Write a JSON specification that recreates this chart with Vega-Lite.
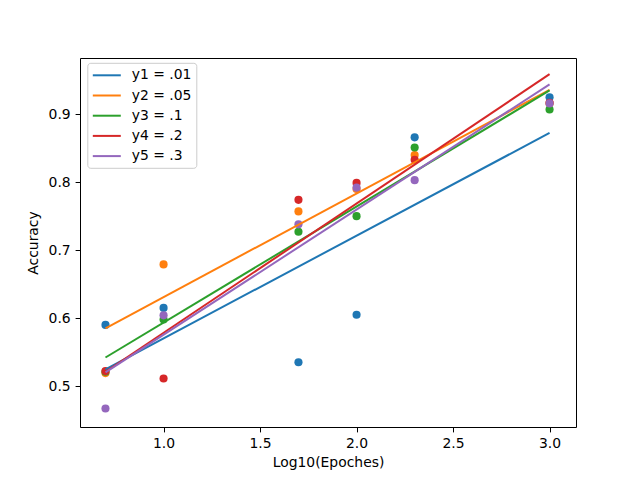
{
  "$schema": "https://vega.github.io/schema/vega-lite/v6.json",
  "width": 496,
  "height": 369,
  "autosize": "none",
  "padding": {"left": 80, "top": 58, "right": 64, "bottom": 53},
  "background": "white",
  "datasets": {
    "points": [
      {"epochs": 0.699, "accuracy": 0.590, "series": "y1 = .01"},
      {"epochs": 1.0, "accuracy": 0.615, "series": "y1 = .01"},
      {"epochs": 1.699, "accuracy": 0.535, "series": "y1 = .01"},
      {"epochs": 2.0, "accuracy": 0.605, "series": "y1 = .01"},
      {"epochs": 2.301, "accuracy": 0.866, "series": "y1 = .01"},
      {"epochs": 3.0, "accuracy": 0.925, "series": "y1 = .01"},
      {"epochs": 0.699, "accuracy": 0.519, "series": "y2 = .05"},
      {"epochs": 1.0, "accuracy": 0.679, "series": "y2 = .05"},
      {"epochs": 1.699, "accuracy": 0.757, "series": "y2 = .05"},
      {"epochs": 2.0, "accuracy": 0.790, "series": "y2 = .05"},
      {"epochs": 2.301, "accuracy": 0.840, "series": "y2 = .05"},
      {"epochs": 3.0, "accuracy": 0.916, "series": "y2 = .05"},
      {"epochs": 0.699, "accuracy": 0.521, "series": "y3 = .1"},
      {"epochs": 1.0, "accuracy": 0.598, "series": "y3 = .1"},
      {"epochs": 1.699, "accuracy": 0.727, "series": "y3 = .1"},
      {"epochs": 2.0, "accuracy": 0.750, "series": "y3 = .1"},
      {"epochs": 2.301, "accuracy": 0.851, "series": "y3 = .1"},
      {"epochs": 3.0, "accuracy": 0.907, "series": "y3 = .1"},
      {"epochs": 0.699, "accuracy": 0.522, "series": "y4 = .2"},
      {"epochs": 1.0, "accuracy": 0.511, "series": "y4 = .2"},
      {"epochs": 1.699, "accuracy": 0.774, "series": "y4 = .2"},
      {"epochs": 2.0, "accuracy": 0.799, "series": "y4 = .2"},
      {"epochs": 2.301, "accuracy": 0.833, "series": "y4 = .2"},
      {"epochs": 3.0, "accuracy": 0.917, "series": "y4 = .2"},
      {"epochs": 0.699, "accuracy": 0.467, "series": "y5 = .3"},
      {"epochs": 1.0, "accuracy": 0.604, "series": "y5 = .3"},
      {"epochs": 1.699, "accuracy": 0.738, "series": "y5 = .3"},
      {"epochs": 2.0, "accuracy": 0.792, "series": "y5 = .3"},
      {"epochs": 2.301, "accuracy": 0.803, "series": "y5 = .3"},
      {"epochs": 3.0, "accuracy": 0.916, "series": "y5 = .3"}
    ],
    "fits": [
      {"epochs": 0.699, "accuracy": 0.5245, "series": "y1 = .01"},
      {"epochs": 3.0, "accuracy": 0.8725, "series": "y1 = .01"},
      {"epochs": 0.699, "accuracy": 0.585, "series": "y2 = .05"},
      {"epochs": 3.0, "accuracy": 0.936, "series": "y2 = .05"},
      {"epochs": 0.699, "accuracy": 0.542, "series": "y3 = .1"},
      {"epochs": 3.0, "accuracy": 0.935, "series": "y3 = .1"},
      {"epochs": 0.699, "accuracy": 0.521, "series": "y4 = .2"},
      {"epochs": 3.0, "accuracy": 0.959, "series": "y4 = .2"},
      {"epochs": 0.699, "accuracy": 0.520, "series": "y5 = .3"},
      {"epochs": 3.0, "accuracy": 0.944, "series": "y5 = .3"}
    ]
  },
  "encoding": {
    "x": {
      "field": "epochs", "type": "quantitative",
      "scale": {"domain": [0.567, 3.137], "nice": false, "zero": false},
      "axis": {"values": [1.0, 1.5, 2.0, 2.5, 3.0], "format": ".1f", "title": "Log10(Epoches)", "titlePadding": 5}
    },
    "y": {
      "field": "accuracy", "type": "quantitative",
      "scale": {"domain": [0.4397, 0.9828], "nice": false, "zero": false},
      "axis": {"values": [0.5, 0.6, 0.7, 0.8, 0.9], "format": ".1f", "title": "Accuracy", "titlePadding": 8}
    },
    "color": {
      "field": "series", "type": "nominal",
      "scale": {
        "domain": ["y1 = .01", "y2 = .05", "y3 = .1", "y4 = .2", "y5 = .3"],
        "range": ["#1f77b4", "#ff7f0e", "#2ca02c", "#d62728", "#9467bd"]
      },
      "legend": {
        "title": null, "orient": "none", "legendX": 7.3, "legendY": 4.8,
        "symbolType": "M-1,0H3",
        "symbolSize": 196, "symbolStrokeWidth": 2, "rowPadding": 5.2,
        "strokeColor": "#cccccc", "fillColor": "white", "cornerRadius": 3,
        "padding": 4.5, "labelFontSize": 13.9, "labelFont": "DejaVu Sans", "labelColor": "black",
        "labelOffset": 24
      }
    }
  },
  "layer": [
    {
      "data": {"name": "points"},
      "mark": {"type": "circle", "size": 66, "opacity": 1}
    },
    {
      "data": {"name": "fits"},
      "mark": {"type": "line", "strokeWidth": 2},
      "encoding": {"detail": {"field": "series"}}
    }
  ],
  "config": {
    "view": {"stroke": "black", "strokeWidth": 1},
    "axis": {
      "grid": false, "domain": false, "tickColor": "black", "tickSize": 4.9,
      "labelFont": "DejaVu Sans", "labelFontSize": 13.9, "labelColor": "black", "labelPadding": 4.9,
      "titleFont": "DejaVu Sans", "titleFontSize": 13.9, "titleFontWeight": "normal", "titleColor": "black"
    }
  }
}
